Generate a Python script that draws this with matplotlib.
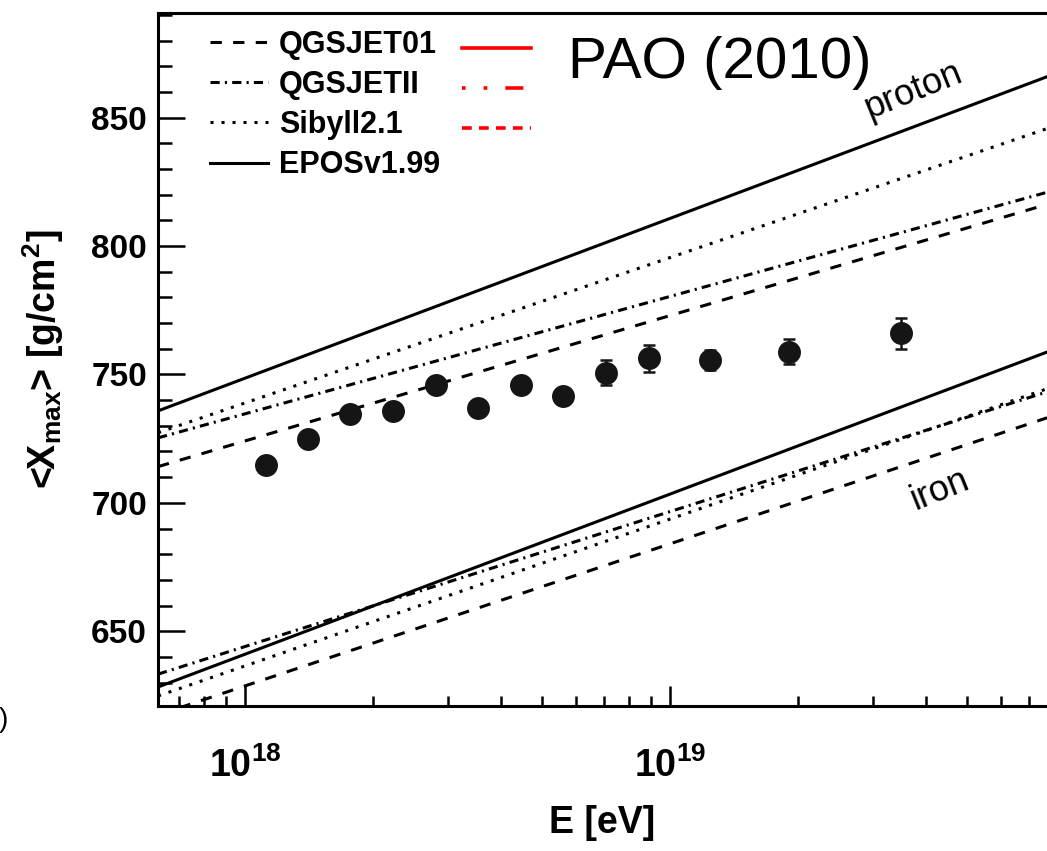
import matplotlib
matplotlib.use('Agg')
import matplotlib.pyplot as plt
from matplotlib.lines import Line2D
from matplotlib.ticker import MultipleLocator, LogLocator, NullFormatter

plt.rcParams['font.family'] = ['Liberation Sans', 'DejaVu Sans']
plt.rcParams['font.weight'] = 'bold'
plt.rcParams['axes.labelweight'] = 'bold'

# PAO 2010 <Xmax> points
energy = [1.12e18, 1.405e18, 1.766e18, 2.234e18, 2.81e18, 3.54e18, 4.458e18,
          5.59e18, 7.08e18, 8.91e18, 1.242e19, 1.905e19, 3.495e19]
xmax = [714.9, 724.8, 734.5, 735.6, 745.9, 737.1, 745.9,
        741.4, 750.7, 756.2, 755.6, 758.9, 766.0]
xmax_err = [3, 3, 3, 3, 3, 3, 3, 3, 5, 5.4, 4, 4.8, 6]

# model predictions, straight lines in log E
models = ['QGSJET01', 'QGSJETII', 'Sibyll2.1', 'EPOSv1.99']
model_energy = [6.24e17, 7.71e19]
proton_lo = [714.1, 725.3, 727.3, 735.8]
proton_hi = [816.2, 820.9, 845.7, 865.9]
iron_lo = [617.4, 633.3, 624.8, 628.3]
iron_hi = [733.1, 743.2, 744.4, 758.7]

styles = [(0, (3.7, 3.7)), (0, (3, 1.7, 0.7, 1.7)), (0, (1, 2.6)), '-']
red_styles = ['-', (0, (1, 5, 1, 5, 5, 5)), (0, (2.7, 2))]

fig = plt.figure(figsize=(10.47, 8.51), dpi=100)
ax = fig.add_axes([0.1509, 0.1704, 0.8491, 0.8143])

handles = []
for i, name in enumerate(models):
    h, = ax.plot(model_energy, [proton_lo[i], proton_hi[i]], color='black',
                 lw=2.2, linestyle=styles[i], label=name)
    ax.plot(model_energy, [iron_lo[i], iron_hi[i]], color='black',
            lw=2.2, linestyle=styles[i])
    handles.append(h)

ax.errorbar(energy, xmax, yerr=xmax_err, fmt='o', color='#151515', ms=15.5,
            elinewidth=1.8, capsize=4, capthick=1.8)

ax.set_xscale('log')
ax.set_xlim(10**17.795, 10**19.887)
ax.set_ylim(620.9, 890.7)

ax.yaxis.set_major_locator(MultipleLocator(50))
ax.yaxis.set_minor_locator(MultipleLocator(10))
ax.xaxis.set_major_locator(LogLocator(base=10))
ax.xaxis.set_minor_locator(LogLocator(base=10, subs=range(2, 10)))
ax.xaxis.set_minor_formatter(NullFormatter())

ax.tick_params(axis='both', which='both', direction='in', top=False,
               right=False, width=1.8)
ax.tick_params(axis='x', which='major', length=14.5, pad=30, labelsize=27)
ax.tick_params(axis='x', which='minor', length=7.2)
ax.tick_params(axis='y', which='major', length=19.5, pad=8, labelsize=24)
ax.tick_params(axis='y', which='minor', length=10)

for side in ['left', 'bottom', 'top']:
    ax.spines[side].set_linewidth(2.2)
ax.spines['right'].set_visible(False)

ax.set_xlabel('E [eV]', fontsize=27, labelpad=14)
ax.set_ylabel(r'<X$_{\mathdefault{max}}$> [g/cm$^{\mathdefault{2}}$]',
              fontsize=27, labelpad=18)

leg1 = ax.legend(handles=handles, loc='upper left',
                 bbox_to_anchor=(0.0585, 0.9755), frameon=False, fontsize=22,
                 handlelength=1.9, handletextpad=0.35, labelspacing=0.33,
                 borderpad=0, borderaxespad=0)
ax.add_artist(leg1)

red_handles = [Line2D([], [], color='red', lw=2.6, linestyle=s)
               for s in red_styles]
ax.legend(red_handles, ['', '', ''], loc='upper left',
          bbox_to_anchor=((462 - 158) / 889, 0.968), frameon=False,
          fontsize=22, handlelength=2.25, handletextpad=0, labelspacing=0.33,
          borderpad=0, borderaxespad=0)

fig.text(568 / 1047, 1 - 78 / 851, 'PAO (2010)', fontsize=42,
         fontweight='normal', ha='left', va='baseline')
ax.text(3.75e19, 860.5, 'proton', rotation=22, fontsize=26,
        fontweight='normal', ha='center', va='center', rotation_mode='anchor')
ax.text(4.32e19, 705.2, 'iron', rotation=22, fontsize=26,
        fontweight='normal', ha='center', va='center', rotation_mode='anchor')
fig.text(8 / 1047, 1 - 720 / 851, ')', fontsize=20, fontweight='normal',
         ha='right', va='center')

fig.savefig('out.png', dpi=100)
